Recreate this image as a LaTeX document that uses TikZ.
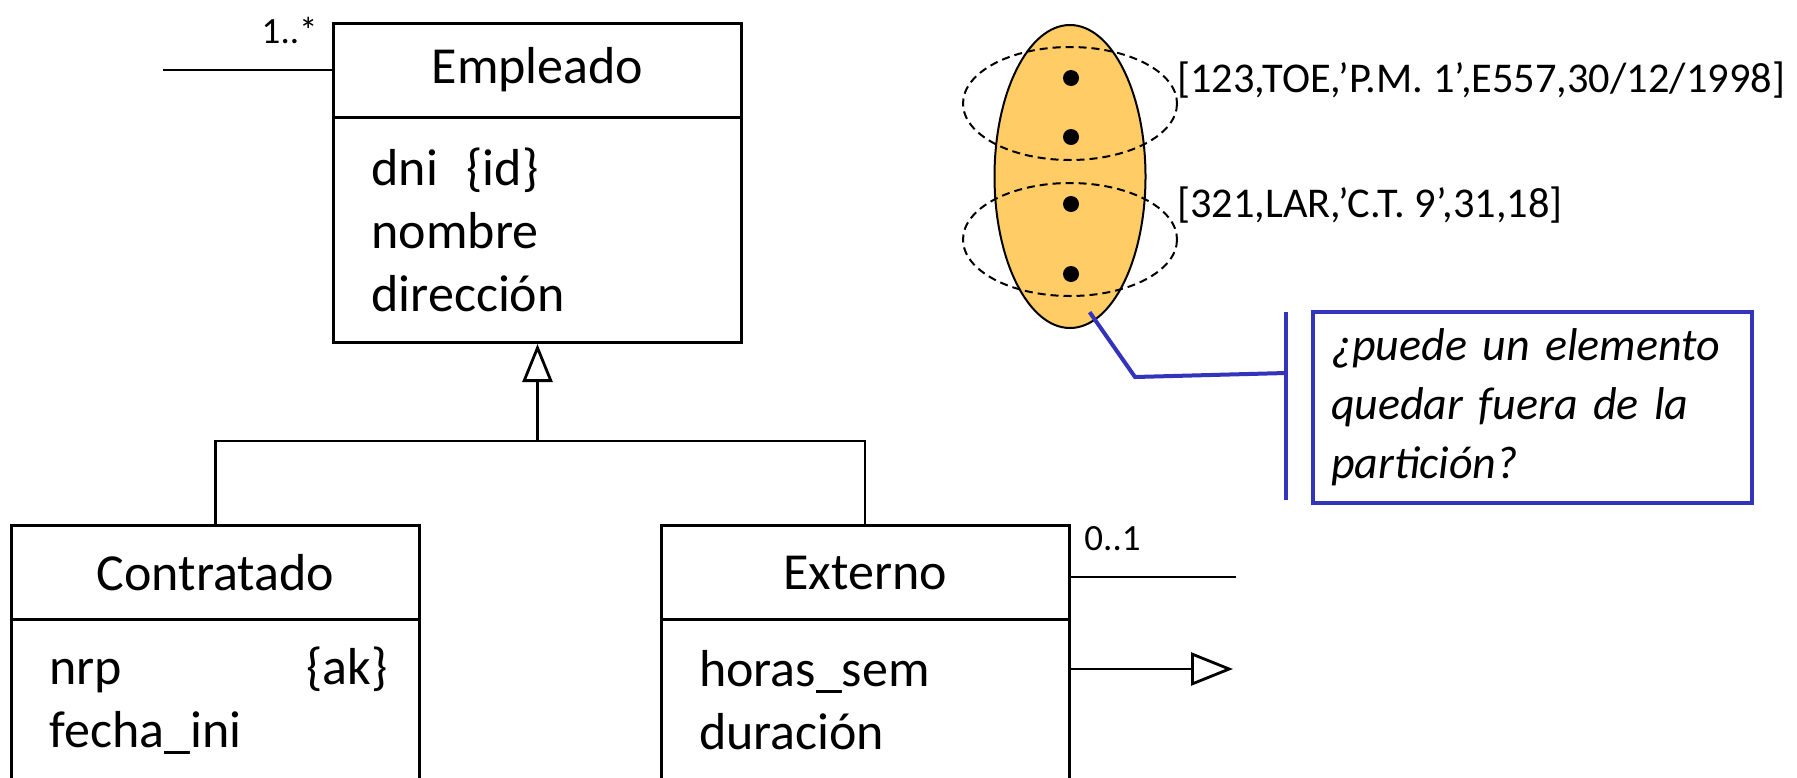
\documentclass[tikz,border=0pt]{standalone}
\usepackage{fontspec}
\setmainfont{Carlito}
\usepackage{tikz}
\usetikzlibrary{positioning, shapes.geometric, arrows.meta}
\definecolor{partfill}{RGB}{255,204,102}
\definecolor{noteblue}{RGB}{51,51,187}
\tikzset{
  classhead/.style = {draw, line width=1.5pt, outer sep=0pt, minimum width=204pt, minimum height=47pt, font=\fontsize{26}{31.5}\selectfont},
  classattr/.style = {draw, line width=1.5pt, outer sep=0pt, text width=166pt, inner xsep=19pt, align=left, font=\fontsize{26}{31.5}\selectfont},
  mult/.style = {inner sep=0pt, font=\fontsize{18.5}{22}\selectfont},
  tuple/.style = {anchor=west, inner sep=0pt, font=\fontsize{21.2}{26}\selectfont},
  link/.style = {line width=1.4pt},
  notelink/.style = {noteblue, line width=2pt}
}
\begin{document}
\begin{tikzpicture}[x=0.5pt, y=-0.5pt]
\useasboundingbox (0,0) rectangle (1797,777);

\node[classhead] (emp) at (537.5, 70) {Empleado};
\node[classattr, minimum height=112.5pt, below=0pt of emp] (empattr) {dni\hspace{0.55em}\{id\}\\nombre\\dirección};
\node[classhead] (con) at (215.5, 572.5) {Contratado};
\node[classattr, minimum height=81pt, below=0pt of con] (conattr) {nrp\hfill\{ak\}\kern-3pt\\fecha\_ini};
\node[classhead] (ext) at (865, 572.5) {Externo};
\node[classattr, minimum height=81pt, below=0pt of ext] (extattr) {horas\_sem\\duración};

\coordinate (emplink) at (163, 70);
\draw[link] (emplink) -- (emp.west);
\node[mult, anchor=base east] (empmult) at (318, 43) {1..*};
\coordinate (gen) at (537.5, 441);
\draw[link, shorten >=1pt, -{Triangle[open, length=19pt, width=15pt]}] (gen) -- (empattr.south);
\draw[link] (con.north) |- (gen) -| (ext.north);
\coordinate (extlink) at (1236, 577);
\draw[link] (ext.east |- extlink) -- (extlink);
\node[mult, anchor=base west] (extmult) at (1084, 550) {0..1};
\coordinate (extarrow) at (1233, 669);
\draw[link, -{Triangle[open, length=21pt, width=16.5pt]}] (extattr.east |- extarrow) -- (extarrow);

\node[ellipse, draw, fill=partfill, line width=1pt, minimum width=75.5pt, minimum height=151.5pt, inner sep=0pt] (part) at (1070, 176.5) {};
\draw[dashed, line width=1pt, dash pattern=on 4pt off 2.5pt] (1070, 103.5) ellipse [x radius=107, y radius=56.5];
\draw[dashed, line width=1pt, dash pattern=on 4pt off 2.5pt] (1070, 239.5) ellipse [x radius=107, y radius=56.5];
\fill (1071, 78) circle [radius=8];
\fill (1071, 137) circle [radius=8];
\fill (1071, 204) circle [radius=8];
\fill (1071, 274) circle [radius=8];
\node[tuple] (tupleA) at (1177, 80) {[123,TOE,’P.M. 1’,E557,30/12/1998]};
\node[tuple] (tupleB) at (1177, 205.5) {[321,LAR,’C.T. 9’,31,18]};

\node[draw=noteblue, line width=2pt, anchor=north west, minimum height=95.5pt, text width=201.5pt, inner xsep=9pt, align=left, font=\itshape\fontsize{23}{29.5}\selectfont] (note) at (1311, 310) {¿puede un elemento\\quedar fuera de la\\partición?};
\coordinate (notebartop) at (1286, 312);
\coordinate (notebarbot) at (1286, 500);
\coordinate (notejoin) at (1286, 373);
\coordinate (noteknee) at (1135, 377);
\draw[notelink] (notebartop) -- (notebarbot);
\draw[notelink, shorten <=-5pt] (part.280) -- (noteknee) -- (notejoin);
\end{tikzpicture}
\end{document}
